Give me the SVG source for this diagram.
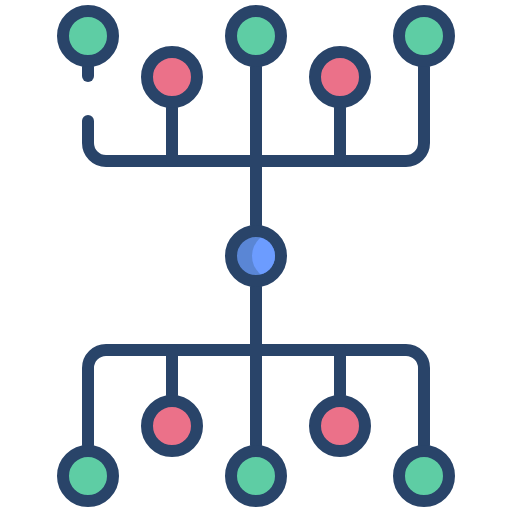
<svg xmlns="http://www.w3.org/2000/svg" width="512" height="512" viewBox="0 0 512 512">
<style>
.c{fill:none;stroke:#294469;stroke-width:12;stroke-linecap:round;stroke-linejoin:round}
.n{stroke:#294469;stroke-width:12}
.g{fill:#5ECDA4}
.p{fill:#EB7189}
</style>
<defs>
<clipPath id="inner"><circle cx="256" cy="256" r="19"/></clipPath>
</defs>
<g id="connectors" class="c">
<path d="M88 67V76"/>
<path d="M88 121V143A18 18 0 0 0 106 161H406A18 18 0 0 0 424 143V67"/>
<path d="M256 67V225"/>
<path d="M172 108V161M340 108V161"/>
<path d="M256 287V445"/>
<path d="M88 445V368A18 18 0 0 1 106 350H406A18 18 0 0 1 424 368V445"/>
<path d="M172 350V395M340 350V395"/>
</g>
<g id="top-left"><circle class="n g" cx="88" cy="36" r="25"/></g>
<g id="top-pink-left"><circle class="n p" cx="172" cy="77" r="25"/></g>
<g id="top-center"><circle class="n g" cx="256" cy="36" r="25"/></g>
<g id="top-pink-right"><circle class="n p" cx="340" cy="77" r="25"/></g>
<g id="top-right"><circle class="n g" cx="424" cy="36" r="25"/></g>
<g id="center">
<circle cx="256" cy="256" r="25" fill="#5A86D5" stroke="#294469" stroke-width="12"/>
<circle cx="276" cy="256" r="24" fill="#6C9CFF" clip-path="url(#inner)"/>
</g>
<g id="bottom-pink-left"><circle class="n p" cx="172" cy="426" r="25"/></g>
<g id="bottom-pink-right"><circle class="n p" cx="340" cy="426" r="25"/></g>
<g id="bottom-left"><circle class="n g" cx="88" cy="476" r="25"/></g>
<g id="bottom-center"><circle class="n g" cx="256" cy="476" r="25"/></g>
<g id="bottom-right"><circle class="n g" cx="424" cy="476" r="25"/></g>
</svg>
